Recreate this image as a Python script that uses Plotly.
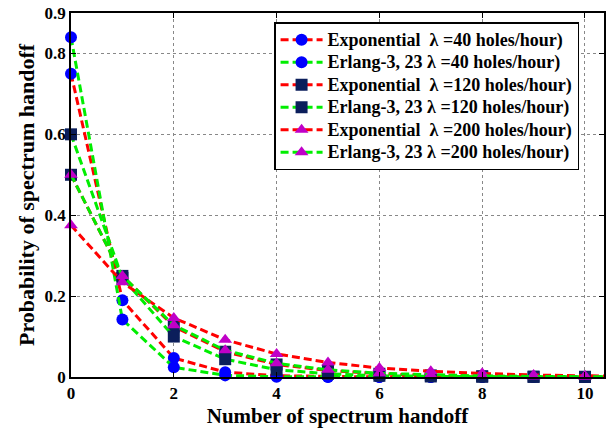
import plotly.graph_objects as go

x_vals = [0, 1, 2, 3, 4, 5, 6, 7, 8, 9, 10, 11]

exp_40 = [0.75, 0.19, 0.047, 0.012, 0.003, 0.0008, 0.0002, 0.0001, 0.0, 0.0, 0.0, 0.0]
erl_40 = [0.84, 0.142, 0.024, 0.004, 0.0008, 0.0002, 0.0, 0.0, 0.0, 0.0, 0.0, 0.0]
exp_120 = [0.5, 0.25, 0.125, 0.0625, 0.031, 0.016, 0.008, 0.004, 0.002, 0.001, 0.0005, 0.0003]
erl_120 = [0.6, 0.245, 0.1, 0.044, 0.018, 0.008, 0.003, 0.0013, 0.0005, 0.0002, 0.0001, 0.0]
exp_200 = [0.375, 0.234, 0.146, 0.092, 0.057, 0.036, 0.022, 0.014, 0.009, 0.005, 0.003, 0.002]
erl_200 = [0.5, 0.25, 0.128, 0.066, 0.034, 0.018, 0.009, 0.005, 0.0025, 0.0013, 0.0006, 0.0003]

series_names = [
    "Exponential  λ =40 holes/hour)",
    "Erlang-3, 23 λ =40 holes/hour)",
    "Exponential  λ =120 holes/hour)",
    "Erlang-3, 23 λ =120 holes/hour)",
    "Exponential  λ =200 holes/hour)",
    "Erlang-3, 23 λ =200 holes/hour)",
]
series_values = [exp_40, erl_40, exp_120, erl_120, exp_200, erl_200]

y_tickvals = [0, 0.2, 0.4, 0.6, 0.8, 0.9]
y_ticktext = ["0", "0.2", "0.4", "0.6", "0.8", "0.9"]
x_tickvals = [0, 2, 4, 6, 8, 10]

line_colors = ["#FF0000", "#00EE00"]
marker_colors = ["#0000FF", "#0000FF", "#0B1E5B", "#0B1E5B", "#C000C8", "#C000C8"]
marker_symbols = ["circle", "circle", "square", "square", "triangle-up", "triangle-up"]

FONT = "Liberation Serif"

fig = go.Figure()
for i, (name, vals) in enumerate(zip(series_names, series_values)):
    fig.add_trace(go.Scatter(
        x=x_vals, y=vals, name="<span style='font-size:18px'>" + name + "</span>",
        mode="lines+markers",
        line=dict(color=line_colors[i % 2], width=3, dash="8px,4px"),
        marker=dict(color=marker_colors[i], symbol=marker_symbols[i], size=12,
                    line=dict(width=0)),
        cliponaxis=False,
    ))

fig.update_layout(
    width=606, height=435,
    margin=dict(l=71, r=0, t=13, b=58),
    paper_bgcolor="white", plot_bgcolor="white",
    font=dict(family=FONT, size=16, color="black", weight="bold"),
    showlegend=True,
    legend=dict(
        x=0.381, y=0.975, xanchor="left", yanchor="top",
        bgcolor="white", bordercolor="black", borderwidth=1.5,
        font=dict(family=FONT, size=15, color="black", weight="bold"),
        tracegroupgap=0, itemwidth=42,
    ),
)

fig.update_xaxes(
    range=[0, 10.37], tickvals=x_tickvals,
    showline=True, linecolor="black", linewidth=1.5, mirror="ticks",
    ticks="inside", ticklen=5, tickcolor="black",
    showgrid=True, gridcolor="#888888", griddash="dot", gridwidth=1,
    zeroline=False,
    title=dict(text="Number of spectrum handoff", font=dict(size=21, family=FONT, weight="bold"), standoff=6),
    tickfont=dict(size=17, family=FONT, weight="bold"),
)
fig.update_yaxes(
    range=[0, 0.9], tickvals=y_tickvals, ticktext=y_ticktext,
    showline=True, linecolor="black", linewidth=1.5, mirror="ticks",
    ticks="inside", ticklen=5, tickcolor="black",
    showgrid=True, gridcolor="#888888", griddash="dot", gridwidth=1,
    zeroline=False,
    title=dict(text="Probability of spectrum handoff", font=dict(size=22, family=FONT, weight="bold"), standoff=4),
    tickfont=dict(size=17, family=FONT, weight="bold"),
)

fig.write_html("out.html")
